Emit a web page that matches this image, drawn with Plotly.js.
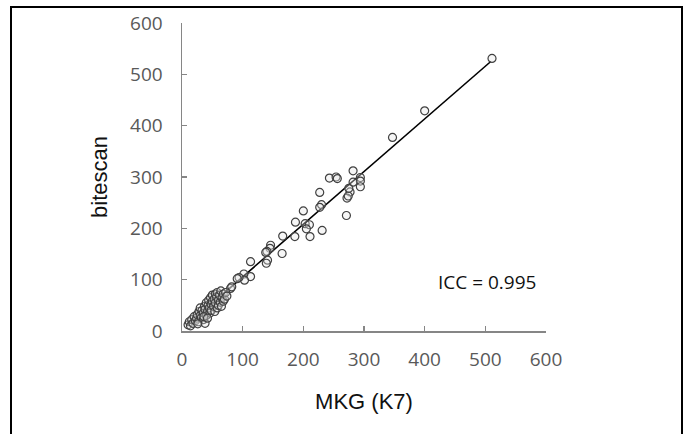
<!DOCTYPE html>
<html>
<head>
<meta charset="utf-8">
<script src="https://cdn.plot.ly/plotly-3.0.1.min.js"></script>
<style>
html,body{margin:0;padding:0;background:#fff;overflow:hidden;}
#wrap{position:relative;width:692px;height:434px;overflow:hidden;}
#chart{position:absolute;left:0;top:0;width:692px;height:434px;}
#frame{position:absolute;left:10px;top:6px;width:669px;height:450px;border:2px solid #000;pointer-events:none;}
</style>
</head>
<body>
<div id="wrap"><div id="chart"></div><div id="frame"></div></div>
<script>
// MKG (K7) values
const mkg = [511,400,347,
  243,254,256,282,294,294,294,282,277,272,274,275,271,
  227,230,227,200,187,203,210,205,211,231,186,
  166,165,146,145,140,138,141,139,113,113,102,103,94,91,80,82,
  10,12,14,16,18,20,22,24,25,27,28,30,30,32,33,35,35,37,38,38,40,40,42,43,44,45,46,47,48,48,
  50,50,52,53,54,55,55,57,58,58,60,60,62,63,64,65,66,68,68,70,72,74,36,42,26];
// bitescan values
const bitescan = [531,429,377,
  298,300,297,312,299,292,281,290,271,259,263,278,225,
  270,246,241,234,212,209,207,199,184,196,184,
  185,151,167,161,155,153,138,132,135,106,111,99,104,102,83,86,
  12,18,10,22,15,28,20,25,32,18,38,30,45,26,40,35,22,48,42,15,55,30,38,50,60,45,35,65,52,40,
  58,70,48,62,38,72,55,66,45,75,60,50,70,56,78,48,65,72,58,62,75,68,28,25,14];
// regression line endpoints
const fitX = [8, 509];
const fitY = [11, 525];
const xTicks = [0,100,200,300,400,500,600];
const yTicks = [0,100,200,300,400,500,600];

const tickFont = {family:'"Open Sans", sans-serif', size:19, color:'#595959'};
const axisCommon = {
  range:[0,600], showgrid:false, zeroline:false, showline:true,
  linecolor:'#868686', linewidth:1.5, ticks:'inside', ticklen:5,
  tickcolor:'#868686', tickwidth:1.5, tickfont:tickFont, tickmode:'array'
};

const data = [
  {x:fitX, y:fitY, mode:'lines', type:'scatter', line:{color:'#000', width:1.6}, hoverinfo:'skip'},
  {x:mkg, y:bitescan, mode:'markers', type:'scatter',
   marker:{symbol:'circle', size:8, color:'rgba(230,230,230,0.35)', line:{color:'#404040', width:1.2}}}
];

const layout = {
  width:692, height:434, showlegend:false,
  paper_bgcolor:'#fff', plot_bgcolor:'#fff',
  margin:{l:182, r:146, t:23, b:103},
  xaxis:Object.assign({}, axisCommon, {tickvals:xTicks, ticklabelstandoff:11,
    title:{text:'MKG (K7)', font:{family:'"Liberation Sans", Arial, sans-serif', size:22, color:'#111'}, standoff:22}}),
  yaxis:Object.assign({}, axisCommon, {tickvals:yTicks, ticklabelstandoff:14,
    title:{text:'bitescan', font:{family:'"Liberation Sans", Arial, sans-serif', size:22, color:'#111'}, standoff:16}}),
  annotations:[{x:503, y:95, xref:'x', yref:'y', text:'ICC = 0.995', showarrow:false,
    font:{family:'"Open Sans", sans-serif', size:19, color:'#111'}}]
};

Plotly.newPlot('chart', data, layout, {displayModeBar:false, staticPlot:true});
</script>
</body>
</html>
